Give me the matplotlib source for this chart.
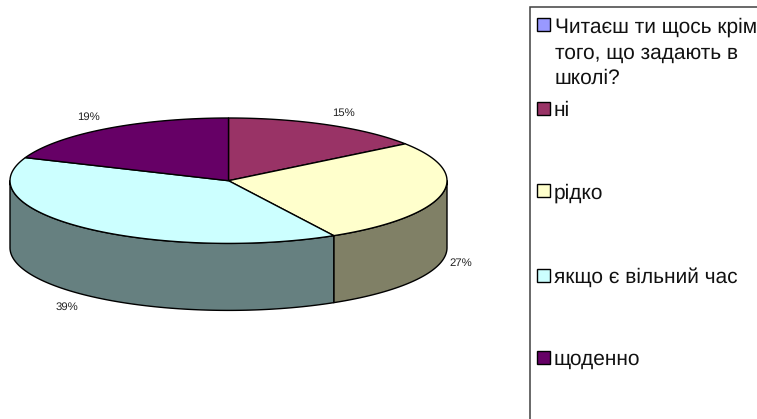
import numpy as np
import matplotlib
matplotlib.use('Agg')
import matplotlib.pyplot as plt
from matplotlib.patches import Polygon, Rectangle

plt.rcParams['font.family'] = ['Liberation Sans', 'DejaVu Sans']
plt.rcParams['text.hinting'] = 'no_hinting'

# data
categories = ['ні', 'рідко', 'якщо є вільний час', 'щоденно']
values = [15, 27, 39, 19]
pct_labels = ['15%', '27%', '39%', '19%']
colors = ['#993366', '#FFFFCC', '#CCFFFF', '#660066']
side_colors = ['#4D1933', '#808066', '#668080', '#330033']
legend_title = ['Читаєш ти щось крім', 'того, що задають в', 'школі?']
title_color = '#9999FF'

# pie geometry in pixels
cx, cy = 228.5, 180.7
rx, ry = 218.5, 62.7
depth = 67

label_pos = [(344, 113), (461, 263), (67, 307), (89, 117)]
legend_y = [108, 191, 275, 357]
title_y = [25, 51, 76]


def rim(a, b, n=120):
    t = np.radians(np.linspace(a, b, n))
    return cx + rx * np.sin(t), cy - ry * np.cos(t)


fig = plt.figure(figsize=(7.57, 4.19), dpi=100)
ax = fig.add_axes([0, 0, 1, 1])
ax.set_xlim(0, 757)
ax.set_ylim(419, 0)
ax.axis('off')

edges = np.concatenate([[0], np.cumsum(values)]) * 360 / sum(values)

# side wall, only the front half of the rim shows
for i in range(len(values)):
    a = max(edges[i], 90)
    b = min(edges[i + 1], 270)
    if a >= b:
        continue
    x, y = rim(a, b)
    pts = np.column_stack([np.r_[x, x[::-1]], np.r_[y, y[::-1] + depth]])
    ax.add_patch(Polygon(pts, closed=True, fc=side_colors[i], ec='black', lw=1, joinstyle='round'))

# top face
for i in range(len(values)):
    x, y = rim(edges[i], edges[i + 1])
    pts = np.column_stack([np.r_[cx, x], np.r_[cy, y]])
    ax.add_patch(Polygon(pts, closed=True, fc=colors[i], ec='black', lw=1, joinstyle='round'))

for txt, (px, py) in zip(pct_labels, label_pos):
    ax.text(px, py, txt, fontsize=8.2, color='#222222', ha='center', va='center')

# legend box runs off the right and bottom of the picture
ax.add_patch(Rectangle((529.5, 7.5), 260, 440, fc='white', ec='#404040', lw=1.1))


def legend_swatch(y, col):
    ax.add_patch(Rectangle((536.5, y - 6.5), 13, 13, fc=col, ec='black', lw=1))


legend_swatch(25, title_color)
for y, txt in zip(title_y, legend_title):
    ax.text(555, y, txt, fontsize=15, color='#111111', ha='left', va='center_baseline')
for y, col, txt in zip(legend_y, colors, categories):
    legend_swatch(y, col)
    ax.text(554, y, txt, fontsize=15, color='#111111', ha='left', va='center_baseline')

fig.savefig('out.png', dpi=100)
